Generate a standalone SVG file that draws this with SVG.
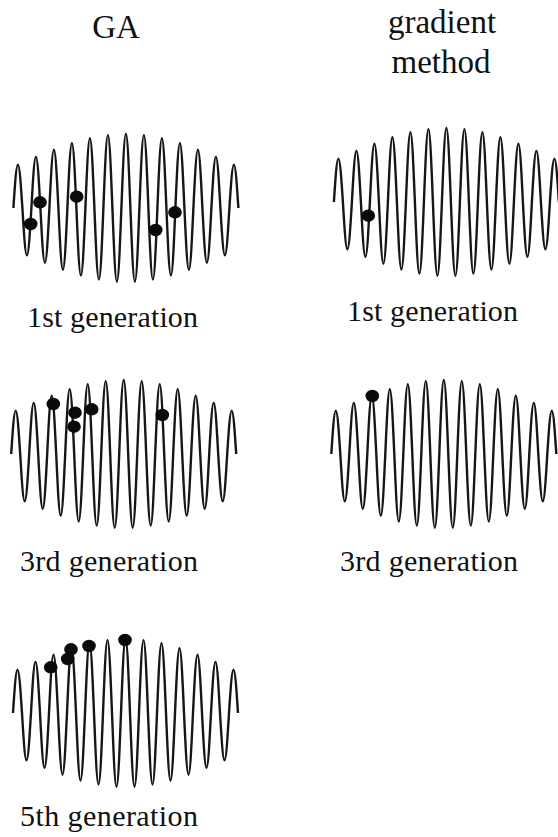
<svg xmlns="http://www.w3.org/2000/svg" xmlns:xlink="http://www.w3.org/1999/xlink" width="558" height="837" viewBox="0 0 558 837">
<style>
.wave{fill:none;stroke:#161616;stroke-width:2.4;stroke-linejoin:round}
.dot{fill:#0a0a0a}
.hd{font-family:"Liberation Serif","Times New Roman",serif;font-size:33px;fill:#111}
.lb{font-family:"Liberation Serif","Times New Roman",serif;font-size:30px;fill:#111}
</style>
<defs>
<path id="w" class="wave" d="M0,0
c1.47,-22.23 2.87,-43.4 4.5,-43.4 c1.63,0 3.03,21.17 4.5,43.4
c1.47,24.23 2.87,47.3 4.5,47.3 c1.63,0 3.03,-23.07 4.5,-47.3
c1.47,-26.18 2.87,-51.1 4.5,-51.1 c1.63,0 3.03,24.92 4.5,51.1
c1.47,28.07 2.87,54.8 4.5,54.8 c1.63,0 3.03,-26.73 4.5,-54.8
c1.47,-29.92 2.87,-58.4 4.5,-58.4 c1.63,0 3.03,28.48 4.5,58.4
c1.47,31.61 2.87,61.7 4.5,61.7 c1.63,0 3.03,-30.09 4.5,-61.7
c1.47,-33.2 2.87,-64.8 4.5,-64.8 c1.63,0 3.03,31.6 4.5,64.8
c1.47,34.58 2.87,67.5 4.5,67.5 c1.63,0 3.03,-32.92 4.5,-67.5
c1.47,-35.76 2.87,-69.8 4.5,-69.8 c1.63,0 3.03,34.04 4.5,69.8
c1.47,36.68 2.87,71.6 4.5,71.6 c1.63,0 3.03,-34.92 4.5,-71.6
c1.47,-37.35 2.87,-72.9 4.5,-72.9 c1.63,0 3.03,35.55 4.5,72.9
c1.47,37.76 2.87,73.7 4.5,73.7 c1.63,0 3.03,-35.94 4.5,-73.7
c1.47,-37.91 2.87,-74 4.5,-74 c1.63,0 3.03,36.09 4.5,74
c1.47,37.76 2.87,73.7 4.5,73.7 c1.63,0 3.03,-35.94 4.5,-73.7
c1.47,-37.35 2.87,-72.9 4.5,-72.9 c1.63,0 3.03,35.55 4.5,72.9
c1.47,36.68 2.87,71.6 4.5,71.6 c1.63,0 3.03,-34.92 4.5,-71.6
c1.47,-35.76 2.87,-69.8 4.5,-69.8 c1.63,0 3.03,34.04 4.5,69.8
c1.47,34.58 2.87,67.5 4.5,67.5 c1.63,0 3.03,-32.92 4.5,-67.5
c1.47,-33.2 2.87,-64.8 4.5,-64.8 c1.63,0 3.03,31.6 4.5,64.8
c1.47,31.61 2.87,61.7 4.5,61.7 c1.63,0 3.03,-30.09 4.5,-61.7
c1.47,-29.92 2.87,-58.4 4.5,-58.4 c1.63,0 3.03,28.48 4.5,58.4
c1.47,28.07 2.87,54.8 4.5,54.8 c1.63,0 3.03,-26.73 4.5,-54.8
c1.47,-26.18 2.87,-51.1 4.5,-51.1 c1.63,0 3.03,24.92 4.5,51.1
c1.47,24.23 2.87,47.3 4.5,47.3 c1.63,0 3.03,-23.07 4.5,-47.3
c1.47,-22.23 2.87,-43.4 4.5,-43.4 c1.63,0 3.03,21.17 4.5,43.4"/>
</defs>
<rect width="558" height="837" fill="#fff"/>
<g id="headers">
<text class="hd" x="116" y="38" text-anchor="middle">GA</text>
<text class="hd" x="442" y="33" text-anchor="middle">gradient</text>
<text class="hd" x="441" y="73" text-anchor="middle">method</text>
</g>
<g id="ga-gen1">
<use xlink:href="#w" href="#w" transform="translate(13.4,208)"/>
<ellipse class="dot" cx="30.7" cy="224" rx="6.8" ry="6.2"/>
<ellipse class="dot" cx="40" cy="202.3" rx="6.8" ry="6.2"/>
<ellipse class="dot" cx="76.7" cy="196.7" rx="6.8" ry="6.2"/>
<ellipse class="dot" cx="155.7" cy="230" rx="6.8" ry="6.2"/>
<ellipse class="dot" cx="175" cy="212.3" rx="6.8" ry="6.2"/>
<text class="lb" x="27" y="327" textLength="171" lengthAdjust="spacing">1st generation</text>
</g>
<g id="grad-gen1">
<use xlink:href="#w" href="#w" transform="translate(333.9,202)"/>
<ellipse class="dot" cx="368.3" cy="215.7" rx="6.8" ry="6.2"/>
<text class="lb" x="347" y="321" textLength="171" lengthAdjust="spacing">1st generation</text>
</g>
<g id="ga-gen3">
<use xlink:href="#w" href="#w" transform="translate(11.2,454)"/>
<ellipse class="dot" cx="53.3" cy="404" rx="6.8" ry="6.2"/>
<ellipse class="dot" cx="75" cy="412.7" rx="6.8" ry="6.2"/>
<ellipse class="dot" cx="74" cy="426.7" rx="6.8" ry="6.2"/>
<ellipse class="dot" cx="91.7" cy="409.3" rx="6.8" ry="6.2"/>
<ellipse class="dot" cx="162.3" cy="415" rx="6.8" ry="6.2"/>
<text class="lb" x="20" y="571" textLength="178" lengthAdjust="spacing">3rd generation</text>
</g>
<g id="grad-gen3">
<use xlink:href="#w" href="#w" transform="translate(331.3,454)"/>
<ellipse class="dot" cx="372.3" cy="396" rx="6.8" ry="6.2"/>
<text class="lb" x="340" y="571" textLength="178" lengthAdjust="spacing">3rd generation</text>
</g>
<g id="ga-gen5">
<use xlink:href="#w" href="#w" transform="translate(13,713)"/>
<ellipse class="dot" cx="50.7" cy="667.3" rx="6.8" ry="6.2"/>
<ellipse class="dot" cx="67.7" cy="659" rx="6.8" ry="6.2"/>
<ellipse class="dot" cx="71" cy="649.3" rx="6.8" ry="6.2"/>
<ellipse class="dot" cx="89" cy="646" rx="6.8" ry="6.2"/>
<ellipse class="dot" cx="125" cy="640" rx="6.8" ry="6.2"/>
<text class="lb" x="20" y="826" textLength="178" lengthAdjust="spacing">5th generation</text>
</g>
<g id="connectors"/>
</svg>
